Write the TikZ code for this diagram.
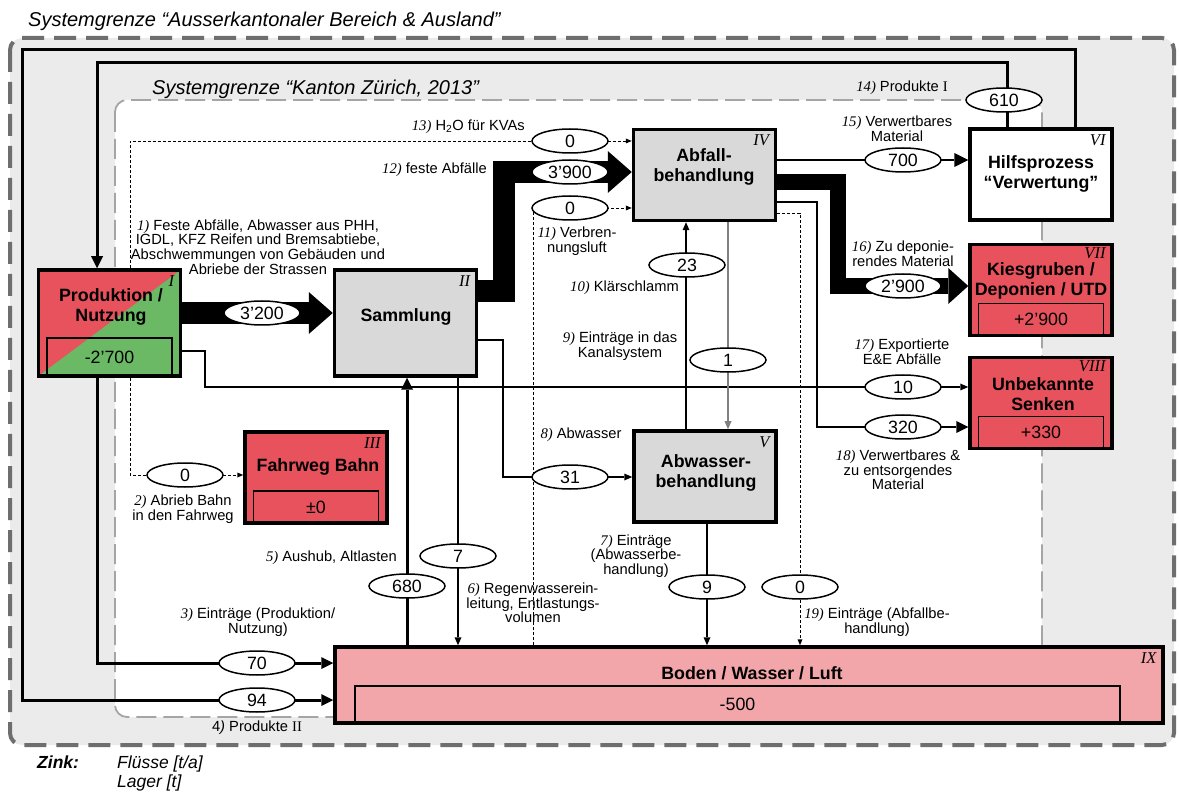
\documentclass[tikz,border=0pt]{standalone}
\usepackage{fontspec}
\setmainfont{Liberation Sans}
\newfontfamily\serifrm{Liberation Serif}
\usetikzlibrary{arrows.meta,shapes.geometric}

\definecolor{frameline}{RGB}{110,110,110}
\definecolor{framefill}{RGB}{235,235,235}
\definecolor{innerline}{RGB}{165,165,165}
\definecolor{procgray}{RGB}{217,217,217}
\definecolor{sinkred}{RGB}{232,82,92}
\definecolor{usegreen}{RGB}{107,185,100}
\definecolor{envpink}{RGB}{243,166,170}
\definecolor{kanalgray}{RGB}{128,128,128}

\newcommand{\mfbox}{\fontsize{17.8}{20}\selectfont\bfseries}
\newcommand{\mfnum}{\fontsize{17.8}{18}\selectfont}
\newcommand{\mflbl}{\fontsize{14.7}{14.6}\selectfont}
\newcommand{\mfrom}{\fontsize{16.5}{16.5}\selectfont\serifrm\itshape}
\newcommand{\mfttl}{\fontsize{20}{22}\selectfont\itshape}
\newcommand{\mfleg}{\fontsize{17.5}{19}\selectfont}
\newcommand{\nr}[1]{{\serifrm\itshape #1)}}

\begin{document}
\begin{tikzpicture}[x=1pt,y=-1pt,
  outerframe/.style={draw=frameline, fill=framefill, line width=4pt, dash pattern=on 22pt off 10pt, rounded corners=12pt},
  innerframe/.style={draw=innerline, fill=white, line width=1.8pt, dash pattern=on 20pt off 7pt, rounded corners=12pt},
  proc/.style={draw=black, line width=3.5pt, inner sep=0pt, minimum width=142pt, minimum height=91pt},
  stock/.style={draw=black, line width=1.2pt, outer sep=0pt, inner sep=0pt, minimum width=125pt, minimum height=32pt, anchor=south, font=\mfnum},
  ptitle/.style={font=\mfbox, align=center, inner sep=0pt},
  roman/.style={font=\mfrom, inner sep=0pt, anchor=north east},
  flownum/.style={draw=black, fill=white, line width=1.5pt, ellipse, minimum width=76pt, minimum height=24pt, inner sep=0pt, font=\mfnum},
  lbl/.style={font=\mflbl, align=center, inner sep=0pt},
  systtl/.style={font=\mfttl, inner sep=0pt, anchor=base west},
  flow/.style={line width=1.3pt, -{Triangle[length=8pt,width=7pt,line width=0pt]}},
  heavy/.style={line width=3pt, -{Triangle[length=12pt,width=12pt,line width=0pt]}},
  dotflow/.style={line width=0.8pt, dash pattern=on 3pt off 2pt, -{Triangle[length=6pt,width=5pt,line width=0pt]}},
  block/.style={line width=22pt, line join=miter, -{Triangle[length=24pt,width=42pt,line width=0pt]}},
]
\useasboundingbox (0,0) rectangle (1179,794);

% system boundaries
\draw[outerframe] (10,38) rectangle (1174,745);
\node[systtl] (tout) at (28,27) {Systemgrenze “Ausserkantonaler Bereich \& Ausland”};
\draw[innerframe] (115,100) rectangle (1042,717);
\node[systtl] (tin) at (152,95) {Systemgrenze “Kanton Zürich, 2013”};

% processes
\node[proc, fill=sinkred, minimum height=106pt,
  path picture={\fill[usegreen] (path picture bounding box.south west) -- (path picture bounding box.north east) -- (path picture bounding box.south east) -- cycle;}] (P) at (109.5,323) {};
\node[stock, minimum height=38pt] (Pst) at ([yshift=1.75pt]P.south) {-2’700};
\node[ptitle] (Pt) at (111,307) {Produktion /\\Nutzung};
\node[roman] (Pr) at ([xshift=-8pt,yshift=-7pt]P.north east) {I};

\node[proc, fill=procgray, minimum height=106pt] (S) at (405.5,323) {};
\node[ptitle] (St) at (406,317) {Sammlung};
\node[roman] (Sr) at ([xshift=-8pt,yshift=-7pt]S.north east) {II};

\node[proc, fill=sinkred] (F) at (316,477.5) {};
\node[stock] (Fst) at ([yshift=1.75pt]F.south) {±0};
\node[ptitle] (Ft) at (318,467) {Fahrweg Bahn};
\node[roman] (Fr) at ([xshift=-8pt,yshift=-7pt]F.north east) {III};

\node[proc, fill=procgray] (A) at (704.5,175) {};
\node[ptitle] (At) at (704,167) {Abfall-\\behandlung};
\node[roman] (Ar) at ([xshift=-8pt,yshift=-7pt]A.north east) {IV};

\node[proc, fill=procgray] (W) at (705,476.5) {};
\node[ptitle] (Wt) at (706,473) {Abwasser-\\behandlung};
\node[roman] (Wr) at ([xshift=-8pt,yshift=-7pt]W.north east) {V};

\node[proc, fill=white] (H) at (1041,174.5) {};
\node[ptitle] (Ht) at (1041,174) {Hilfsprozess\\“Verwertung”};
\node[roman] (Hr) at ([xshift=-8pt,yshift=-7pt]H.north east) {VI};

\node[proc, fill=sinkred] (K) at (1041,290) {};
\node[stock] (Kst) at ([yshift=1.75pt]K.south) {+2’900};
\node[ptitle] (Kt) at (1041,281) {Kiesgruben /\\Deponien / UTD};
\node[roman] (Kr) at ([xshift=-8pt,yshift=-5pt]K.north east) {VII};

\node[proc, fill=sinkred] (U) at (1041,403) {};
\node[stock] (Ust) at ([yshift=1.75pt]U.south) {+330};
\node[ptitle] (Ut) at (1043,394) {Unbekannte\\Senken};
\node[roman] (Ur) at ([xshift=-8pt,yshift=-5pt]U.north east) {VIII};

\node[proc, fill=envpink, minimum width=828pt, minimum height=76pt] (B) at (749,685) {};
\node[stock, minimum width=765pt, minimum height=37pt] (Bst) at ([xshift=-11.5pt,yshift=1.75pt]B.south) {-500};
\node[ptitle] (Bt) at (752,673) {Boden / Wasser / Luft};
\node[roman] (Br) at ([xshift=-8pt,yshift=-7pt]B.north east) {IX};

% flows
\draw[heavy] ([xshift=-34pt]H.north) |- (97,63) -- (P.north -| 97,0);
\draw[heavy] ([xshift=34pt]H.north) |- (22,50) |- (B.west |- 0,700);
\draw[heavy] (P.south -| 97,0) |- (B.west |- 0,663);
\draw[flow] (P.east |- 0,351) -| (205,387) -- (U.west |- 0,387);
\draw[dotflow] (P.south -| 130,0) |- (F.west |- 0,475);
\draw[dotflow] (P.north -| 130,0) |- (A.west |- 0,141);
\draw[block] (P.east |- 0,313) -- (S.west |- 0,313);
\draw[block] (S.east |- 0,291) -| (504,172) -- (A.west |- 0,172);
\draw[dotflow] (B.north -| 533,0) |- (A.west |- 0,208);
\draw[flow] (W.north -| 686,0) -- (A.south -| 686,0);
\draw[flow, draw=kanalgray, line width=1.1pt] (A.south -| 728,0) -- (W.north -| 728,0);
\draw[flow] (S.east |- 0,340) -| (503,477) -- (W.west |- 0,477);
\draw[flow] (S.south -| 458,0) -- (B.north -| 458,0);
\draw[heavy] (B.north -| 407,0) -- (S.south -| 407,0);
\draw[flow] (W.south -| 707,0) -- (B.north -| 707,0);
\draw[dotflow] (A.east |- 0,213) -| (B.north -| 800,0);
\draw[line width=2.5pt, -{Triangle[length=14pt,width=14pt,line width=0pt]}] (A.east |- 0,160) -- (H.west |- 0,160);
\draw[line width=16pt, line join=miter, -{Triangle[length=20pt,width=36pt,line width=0pt]}] (A.east |- 0,182) -| (838,286) -- (K.west |- 0,286);
\draw[line width=2pt, -{Triangle[length=12pt,width=12pt,line width=0pt]}] (A.east |- 0,202) -| (817,427) -- (U.west |- 0,427);

% flow values
\node[flownum] (e1) at (262,313) {3’200};
\node[flownum] (e2) at (185,475) {0};
\node[flownum] (e3) at (257,663) {70};
\node[flownum] (e4) at (257,700) {94};
\node[flownum] (e5) at (407,586) {680};
\node[flownum] (e6) at (458,556) {7};
\node[flownum] (e7) at (707,587) {9};
\node[flownum] (e8) at (570,477) {31};
\node[flownum] (e9) at (728,360) {1};
\node[flownum] (e10) at (687,265) {23};
\node[flownum] (e11) at (570,208) {0};
\node[flownum] (e12) at (570,172) {3’900};
\node[flownum] (e13) at (570,141) {0};
\node[flownum] (e14) at (1004,100) {610};
\node[flownum] (e15) at (903,160) {700};
\node[flownum] (e16) at (903,286) {2’900};
\node[flownum] (e17) at (903,387) {10};
\node[flownum] (e18) at (903,427) {320};
\node[flownum] (e19) at (800,587) {0};

% flow labels
\node[lbl] (L1) at (258,247) {\nr{1} Feste Abfälle, Abwasser aus PHH,\\IGDL, KFZ Reifen und Bremsabtiebe,\\Abschwemmungen von Gebäuden und\\Abriebe der Strassen};
\node[lbl] (L2) at (183,509) {\nr{2} Abrieb Bahn\\in den Fahrweg};
\node[lbl] (L3) at (258,622) {\nr{3} Einträge (Produktion/\\Nutzung)};
\node[lbl] (L4) at (257,728) {4\textit{)} Produkte {\serifrm II}};
\node[lbl, anchor=east] (L5) at (397,558) {\nr{5} Aushub, Altlasten};
\node[lbl] (L6) at (533,603) {\nr{6} Regenwasserein-\\leitung, Entlastungs-\\volumen};
\node[lbl] (L7) at (636,556) {\nr{7} Einträge\\(Abwasserbe-\\handlung)};
\node[lbl] (L8) at (581,435) {\nr{8} Abwasser};
\node[lbl] (L9) at (620,346) {\nr{9} Einträge in das\\Kanalsystem};
\node[lbl, anchor=east] (L10) at (679,288) {\nr{10} Klärschlamm};
\node[lbl] (L11) at (577,241) {\nr{11} Verbren-\\nungsluft};
\node[lbl, anchor=east] (L12) at (487,170) {\nr{12} feste Abfälle};
\node[lbl, anchor=east] (L13) at (525,127) {\nr{13} H\textsubscript{2}O für KVAs};
\node[lbl, anchor=east] (L14) at (948,88) {\nr{14} Produkte {\serifrm I}};
\node[lbl] (L15) at (897,129) {\nr{15} Verwertbares\\Material};
\node[lbl] (L16) at (903,254) {\nr{16} Zu deponie-\\rendes Material};
\node[lbl] (L17) at (902,352) {\nr{17} Exportierte\\E\&E Abfälle};
\node[lbl] (L18) at (898,470) {\nr{18} Verwertbares \&\\zu entsorgendes\\Material};
\node[lbl] (L19) at (877,622) {\nr{19} Einträge (Abfallbe-\\handlung)};

% legend
\node[anchor=base west, inner sep=0pt, font=\mfleg\bfseries\itshape] (zk) at (37,768) {Zink:};
\node[anchor=base west, inner sep=0pt, font=\mfleg\itshape] (fl) at (117,768) {Flüsse [t/a]};
\node[anchor=base west, inner sep=0pt, font=\mfleg\itshape] (lg) at (117,787) {Lager [t]};
\end{tikzpicture}
\end{document}
